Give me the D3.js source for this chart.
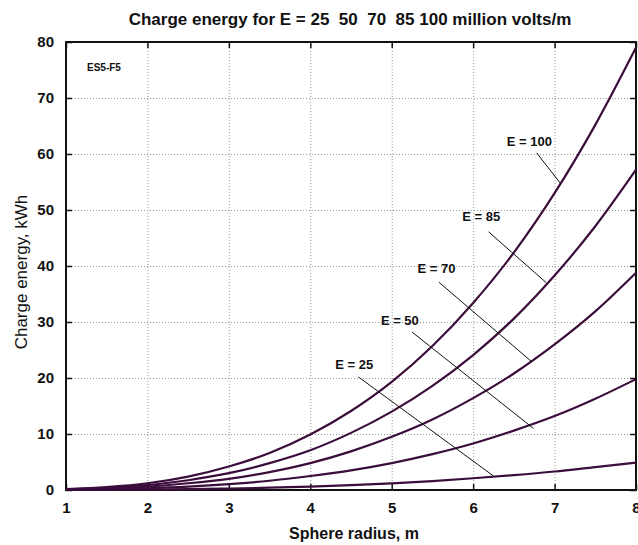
<!DOCTYPE html>
<html>
<head>
<meta charset="utf-8">
<script src="https://cdn.jsdelivr.net/npm/d3@7"></script>
<style>
  body { margin: 0; background: #fff; }
  svg { display: block; font-family: "Liberation Sans", Arial, sans-serif; }
</style>
</head>
<body>
<svg id="chart" width="638" height="545"></svg>
<script>
// sphere radius, m
const radius = [1, 1.5, 2, 2.5, 3, 3.5, 4, 4.5, 5, 5.5, 6, 6.5, 7, 7.5, 8];
// charge energy, kWh for each field strength
const e25  = [0.01, 0.03, 0.08, 0.15, 0.26, 0.41, 0.62, 0.88, 1.2, 1.6, 2.1, 2.65, 3.3, 4.1, 4.9];
const e50  = [0.04, 0.13, 0.31, 0.6, 1.04, 1.65, 2.5, 3.5, 4.8, 6.4, 8.3, 10.6, 13.2, 16.3, 19.8];
const e70  = [0.08, 0.26, 0.6, 1.2, 2.0, 3.2, 4.8, 6.9, 9.5, 12.6, 16.4, 20.8, 26.0, 31.9, 38.8];
const e85  = [0.11, 0.38, 0.89, 1.74, 3.0, 4.8, 7.1, 10.2, 14.0, 18.6, 24.1, 30.6, 38.3, 47.1, 57.2];
const e100 = [0.15, 0.52, 1.2, 2.4, 4.2, 6.6, 9.9, 14.1, 19.3, 25.7, 33.4, 42.4, 53.0, 65.2, 79.0];
const seriesNames = ["E = 25", "E = 50", "E = 70", "E = 85", "E = 100"];
const seriesValues = [e25, e50, e70, e85, e100];

const xTicks = [1, 2, 3, 4, 5, 6, 7, 8];
const yTicks = [0, 10, 20, 30, 40, 50, 60, 70, 80];

// callouts: label spot and the point on the curve, in data units
const labelAt = [[4.54, 22.5], [5.10, 30.2], [5.55, 39.5], [6.10, 48.9], [6.69, 62.3]];
const leaderFrom = [[4.59, 20.2], [5.25, 28.2], [5.58, 37.1], [6.19, 46.1], [6.78, 60.2]];
const leaderTo = [[6.25, 2.5], [6.74, 11.0], [6.72, 22.9], [6.90, 37.0], [7.07, 54.8]];

const margin = { top: 42, right: 2, bottom: 55, left: 66 };
const width = 638, height = 545;
const svg = d3.select("#chart");

const x = d3.scaleLinear().domain([1, 8]).range([margin.left, width - margin.right]);
const y = d3.scaleLinear().domain([0, 80]).range([height - margin.bottom, margin.top]);

const lineColor = "#3b0d3b";

// grid
const grid = svg.append("g").attr("stroke", "#9a9a9a").attr("stroke-width", 1)
    .attr("stroke-dasharray", "1,2");
grid.selectAll("line.gx").data(xTicks.slice(1, -1)).join("line")
    .attr("x1", d => x(d) + 0.5).attr("x2", d => x(d) + 0.5)
    .attr("y1", y(80)).attr("y2", y(0));
grid.selectAll("line.gy").data(yTicks.slice(1, -1)).join("line")
    .attr("x1", x(1)).attr("x2", x(8))
    .attr("y1", d => y(d) + 0.5).attr("y2", d => y(d) + 0.5);

// axes, ticks pointing in
const tickFont = g => g.selectAll("text")
    .attr("font-size", 15).attr("font-weight", "bold").attr("fill", "#111")
    .attr("font-family", "'Liberation Sans', Arial, sans-serif");

svg.append("g")
    .attr("transform", `translate(0,${y(0)})`)
    .call(d3.axisBottom(x).tickValues(xTicks).tickFormat(d3.format("d"))
        .tickSizeInner(-6).tickSizeOuter(0).tickPadding(12))
    .call(g => g.select(".domain").remove())
    .call(g => g.selectAll("line").attr("stroke", "#111").attr("stroke-width", 1.5))
    .call(tickFont);
svg.append("g")
    .attr("transform", `translate(${x(1)},0)`)
    .call(d3.axisLeft(y).tickValues(yTicks).tickSizeInner(-6).tickSizeOuter(0).tickPadding(12))
    .call(g => g.select(".domain").remove())
    .call(g => g.selectAll("line").attr("stroke", "#111").attr("stroke-width", 1.5))
    .call(tickFont);
svg.append("g")
    .attr("transform", `translate(0,${y(80)})`)
    .call(d3.axisTop(x).tickValues(xTicks).tickSizeInner(-6).tickSizeOuter(0).tickFormat(""))
    .call(g => g.select(".domain").remove())
    .call(g => g.selectAll("line").attr("stroke", "#111").attr("stroke-width", 1.5));
svg.append("g")
    .attr("transform", `translate(${x(8)},0)`)
    .call(d3.axisRight(y).tickValues(yTicks).tickSizeInner(-6).tickSizeOuter(0).tickFormat(""))
    .call(g => g.select(".domain").remove())
    .call(g => g.selectAll("line").attr("stroke", "#111").attr("stroke-width", 1.5));

// frame
svg.append("rect")
    .attr("x", x(1)).attr("y", y(80))
    .attr("width", x(8) - x(1)).attr("height", y(0) - y(80))
    .attr("fill", "none").attr("stroke", "#111").attr("stroke-width", 2);

// curves
const line = d3.line()
    .x((d, i) => x(radius[i]))
    .y(d => y(d))
    .curve(d3.curveMonotoneX);

svg.append("g").selectAll("path").data(seriesValues).join("path")
    .attr("d", d => line(d))
    .attr("fill", "none")
    .attr("stroke", lineColor)
    .attr("stroke-width", 2.2);

// callouts
svg.append("g").selectAll("line").data(seriesNames).join("line")
    .attr("x1", (d, i) => x(leaderFrom[i][0])).attr("y1", (d, i) => y(leaderFrom[i][1]))
    .attr("x2", (d, i) => x(leaderTo[i][0])).attr("y2", (d, i) => y(leaderTo[i][1]))
    .attr("stroke", "#111").attr("stroke-width", 1);

svg.append("g").selectAll("text").data(seriesNames).join("text")
    .attr("x", (d, i) => x(labelAt[i][0]))
    .attr("y", (d, i) => y(labelAt[i][1]))
    .attr("text-anchor", "middle")
    .attr("dominant-baseline", "central")
    .attr("font-size", 13).attr("font-weight", "bold").attr("fill", "#111")
    .text(d => d);

// labels
svg.append("text")
    .attr("x", 350).attr("y", 25)
    .attr("text-anchor", "middle")
    .attr("font-size", 17).attr("font-weight", "bold").attr("fill", "#111")
    .style("white-space", "pre")
    .text("Charge energy for E = 25  50  70  85 100 million volts/m");

svg.append("text")
    .attr("x", 354).attr("y", 539)
    .attr("text-anchor", "middle")
    .attr("font-size", 16).attr("font-weight", "bold").attr("fill", "#111")
    .text("Sphere radius, m");

svg.append("text")
    .attr("transform", "translate(27,272) rotate(-90)")
    .attr("text-anchor", "middle")
    .attr("font-size", 17).attr("fill", "#111")
    .text("Charge energy, kWh");

svg.append("text")
    .attr("x", 87).attr("y", 71)
    .attr("font-size", 10).attr("font-weight", "bold").attr("fill", "#111")
    .text("ES5-F5");
</script>
</body>
</html>
